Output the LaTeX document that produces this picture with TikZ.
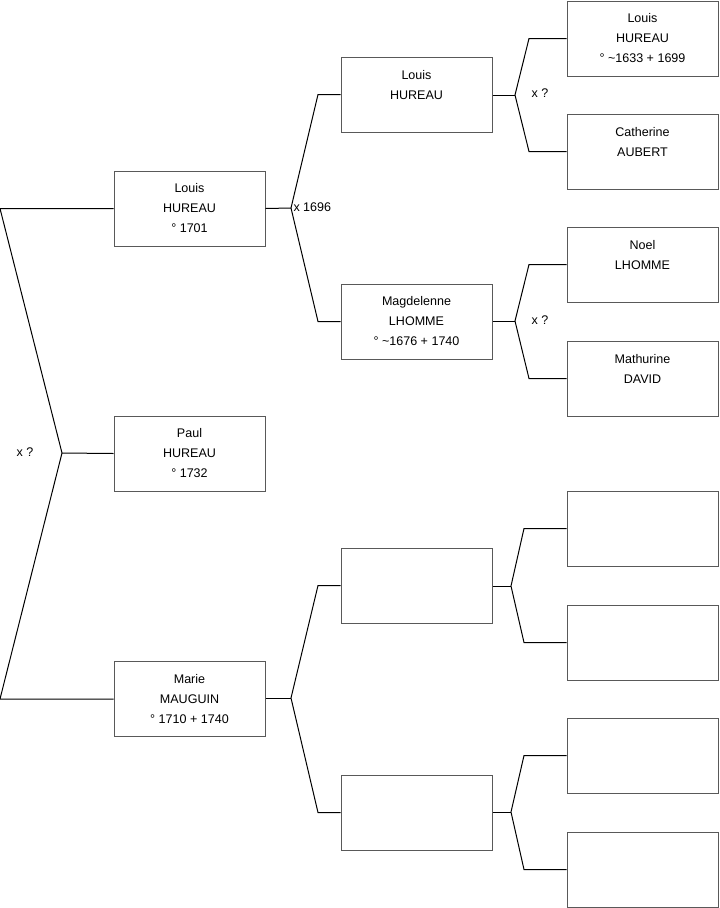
\documentclass[tikz,border=0pt]{standalone}
\usepackage{fontspec}
\setmainfont{Liberation Sans}
\usetikzlibrary{positioning}

\begin{document}
\begin{tikzpicture}[
    x=0.75pt, y=-0.75pt,
    line width=0.75pt,
    person/.style={draw=black!65,fill=white,minimum width=113.25pt,minimum height=56.25pt,
                   inner sep=0pt,align=center,font=\fontsize{9.4}{15}\selectfont},
    link/.style={draw=black,line width=0.75pt},
    union/.style={font=\fontsize{9.4}{11}\selectfont,inner sep=0pt},
  ]
  \useasboundingbox (0,0) rectangle (719,908);

  % --- children (left column) ---
  \node[person] (louisA)  at (189.5,208.5) {Louis\\HUREAU\\° 1701};
  \node[person] (paul)    at (189.5,453.5) {Paul\\HUREAU\\° 1732};
  \node[person] (marie)   at (189.5,699)   {Marie\\MAUGUIN\\° 1710 + 1740};

  % --- parents ---
  \node[person] (louisB)  at (416.5,94.5)  {Louis\\HUREAU\\~};
  \node[person] (magd)    at (416.5,321.5) {Magdelenne\\LHOMME\\° \textasciitilde1676 + 1740};
  \node[person] (pm)      at (416.5,585.5) {};
  \node[person] (mm)      at (416.5,812.5) {};

  % --- grandparents ---
  \node[person] (louisC)  at (642.5,38.5)  {Louis\\HUREAU\\° \textasciitilde1633 + 1699};
  \node[person] (cath)    at (642.5,151.5) {Catherine\\AUBERT\\~};
  \node[person] (noel)    at (642.5,264.5) {Noel\\LHOMME\\~};
  \node[person] (mathu)   at (642.5,378.5) {Mathurine\\DAVID\\~};
  \node[person] (ppm)     at (642.5,528.5) {};
  \node[person] (mpm)     at (642.5,642.5) {};
  \node[person] (pmm)     at (642.5,755.5) {};
  \node[person] (mmm)     at (642.5,869.5) {};

  % --- junction points ---
  \coordinate (j0) at (62,453);
  \coordinate (j1) at (291,208);
  \coordinate (j2) at (291,698);
  \coordinate (j3) at (515,95);
  \coordinate (j4) at (515,321);
  \coordinate (j5) at (511,586);
  \coordinate (j6) at (511,812);

  % --- siblings bracket ---
  \draw[link] (louisA.west) -- (louisA.west -| 0,0) -- (j0)
              -- (marie.west -| 0,0) -- (marie.west);
  \draw[link] (j0) -- (paul.west);
  \node[union] (u0) at (25,452) {x ?};

  % --- parents of Louis ---
  \draw[link] (louisA.east) -- (j1);
  \draw[link] (louisB.west) -- (louisB.west -| 318,0) -- (j1)
              -- (magd.west -| 318,0) -- (magd.west);
  \node[union,anchor=west] (u1) at (293,207) {x 1696};

  % --- parents of Marie ---
  \draw[link] (marie.east |- j2) -- (j2);
  \draw[link] (pm.west) -- (pm.west -| 318,0) -- (j2)
              -- (mm.west -| 318,0) -- (mm.west);

  % --- grandparents ---
  \draw[link] (louisB.east |- j3) -- (j3);
  \draw[link] (louisC.west) -- (louisC.west -| 529,0) -- (j3)
              -- (cath.west -| 529,0) -- (cath.west);
  \node[union] (u2) at (540,93) {x ?};

  \draw[link] (magd.east |- j4) -- (j4);
  \draw[link] (noel.west) -- (noel.west -| 529,0) -- (j4)
              -- (mathu.west -| 529,0) -- (mathu.west);
  \node[union] (u3) at (540,320) {x ?};

  \draw[link] (pm.east |- j5) -- (j5);
  \draw[link] (ppm.west) -- (ppm.west -| 524,0) -- (j5)
              -- (mpm.west -| 524,0) -- (mpm.west);

  \draw[link] (mm.east |- j6) -- (j6);
  \draw[link] (pmm.west) -- (pmm.west -| 524,0) -- (j6)
              -- (mmm.west -| 524,0) -- (mmm.west);

\end{tikzpicture}
\end{document}
